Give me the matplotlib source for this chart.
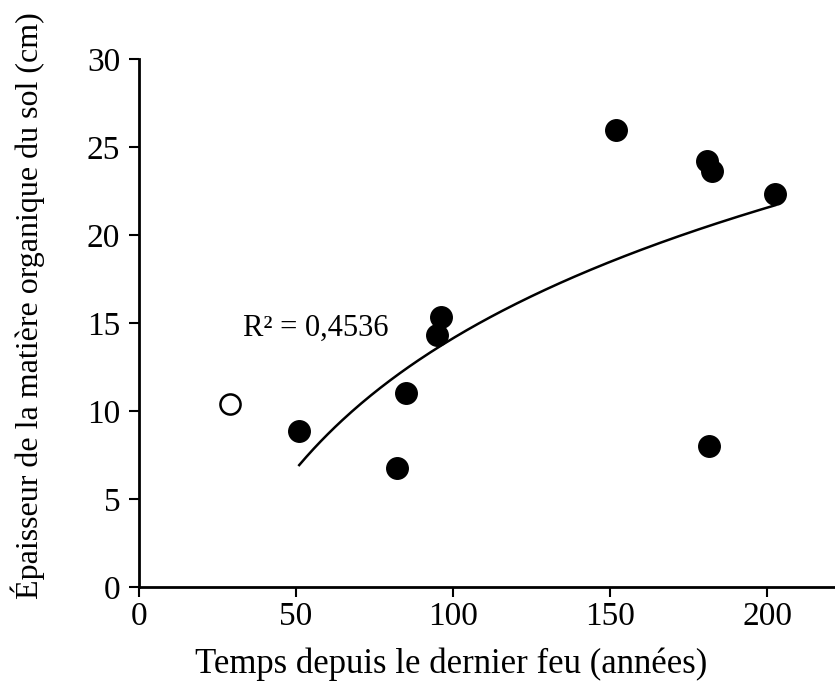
import numpy as np
import matplotlib
matplotlib.use('Agg')
import matplotlib.pyplot as plt

# données
temps = [51, 82, 85, 95, 96, 152, 181, 182.5, 181.5, 202.5]
epaisseur = [8.85, 6.8, 11.05, 14.35, 15.35, 26.0, 24.25, 23.65, 8.0, 22.35]
# point exclu (cercle vide)
temps_exclu = [29]
epaisseur_exclu = [10.4]

x_ticks = [0, 50, 100, 150, 200]
y_ticks = [0, 5, 10, 15, 20, 25, 30]

plt.rcParams['font.family'] = ['Liberation Serif', 'DejaVu Serif']

fig = plt.figure(figsize=(8.35, 6.9), dpi=100)
ax = fig.add_axes([0.1665, 0.149, 0.8335, 0.765])

# courbe logarithmique ajustée sur les points pleins
a, b = np.polyfit(np.log(temps), epaisseur, 1)
xs = np.linspace(min(temps), max(temps), 200)
ax.plot(xs, a * np.log(xs) + b, color='black', lw=1.8, zorder=2)

ax.plot(temps, epaisseur, 'o', color='black', markersize=15.5, zorder=3)
ax.plot(temps_exclu, epaisseur_exclu, 'o', markerfacecolor='white',
        markeredgecolor='black', markeredgewidth=1.8, markersize=14.5, zorder=3)

ax.text(33, 14.7, 'R² = 0,4536', fontsize=22, va='center', ha='left')

ax.set_xlim(0, 221.6)
ax.set_ylim(0, 30)
ax.set_xticks(x_ticks)
ax.set_yticks(y_ticks)
ax.spines['top'].set_visible(False)
ax.spines['right'].set_visible(False)
ax.spines['left'].set_linewidth(2)
ax.spines['bottom'].set_linewidth(2)
ax.tick_params(direction='out', length=7.5, width=1.5, labelsize=24, pad=6)
ax.tick_params(axis='x', pad=3)

ax.set_xlabel('Temps depuis le dernier feu (années)', fontsize=25)
ax.set_ylabel('Épaisseur de la matière organique du sol (cm)', fontsize=23)
ax.xaxis.set_label_coords(0.448, -0.115)
ax.yaxis.set_label_coords(-0.135, 0.534)

fig.savefig('out.png', dpi=100)
